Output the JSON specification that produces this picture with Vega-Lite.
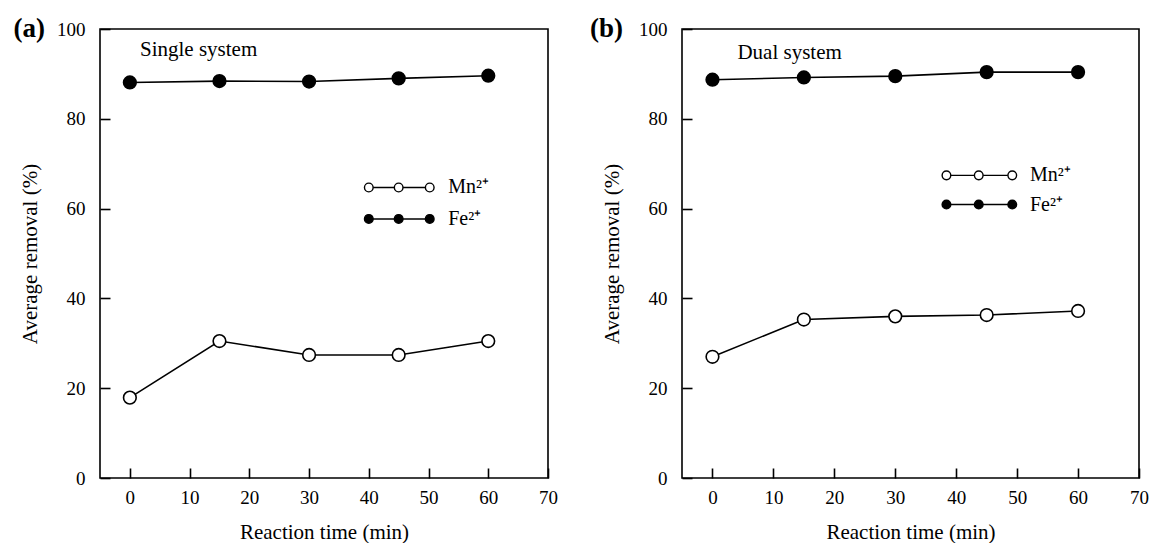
{
  "$schema": "https://vega.github.io/schema/vega-lite/v6.json",
  "background": "white",
  "padding": {"left": 12, "top": 14, "right": 0, "bottom": 2},
  "spacing": 30,
  "datasets": {
    "series": [
      {"panel": "a", "series": "Mn", "time": 0, "value": 17.9},
      {"panel": "a", "series": "Mn", "time": 15, "value": 30.5},
      {"panel": "a", "series": "Mn", "time": 30, "value": 27.4},
      {"panel": "a", "series": "Mn", "time": 45, "value": 27.4},
      {"panel": "a", "series": "Mn", "time": 60, "value": 30.5},
      {"panel": "a", "series": "Fe", "time": 0, "value": 88.1},
      {"panel": "a", "series": "Fe", "time": 15, "value": 88.4},
      {"panel": "a", "series": "Fe", "time": 30, "value": 88.3},
      {"panel": "a", "series": "Fe", "time": 45, "value": 89.0},
      {"panel": "a", "series": "Fe", "time": 60, "value": 89.6},
      {"panel": "b", "series": "Mn", "time": 0, "value": 27.0},
      {"panel": "b", "series": "Mn", "time": 15, "value": 35.3},
      {"panel": "b", "series": "Mn", "time": 30, "value": 36.0},
      {"panel": "b", "series": "Mn", "time": 45, "value": 36.3},
      {"panel": "b", "series": "Mn", "time": 60, "value": 37.2},
      {"panel": "b", "series": "Fe", "time": 0, "value": 88.7},
      {"panel": "b", "series": "Fe", "time": 15, "value": 89.2},
      {"panel": "b", "series": "Fe", "time": 30, "value": 89.5},
      {"panel": "b", "series": "Fe", "time": 45, "value": 90.4},
      {"panel": "b", "series": "Fe", "time": 60, "value": 90.4}
    ],
    "legend": [
      {"panel": "a", "series": "Mn", "lx": 40, "ly": 64.7},
      {"panel": "a", "series": "Mn", "lx": 45, "ly": 64.7},
      {"panel": "a", "series": "Mn", "lx": 50.2, "ly": 64.7},
      {"panel": "a", "series": "Fe", "lx": 40, "ly": 57.7},
      {"panel": "a", "series": "Fe", "lx": 45, "ly": 57.7},
      {"panel": "a", "series": "Fe", "lx": 50.2, "ly": 57.7},
      {"panel": "b", "series": "Mn", "lx": 38.4, "ly": 67.4},
      {"panel": "b", "series": "Mn", "lx": 43.7, "ly": 67.4},
      {"panel": "b", "series": "Mn", "lx": 49.2, "ly": 67.4},
      {"panel": "b", "series": "Fe", "lx": 38.4, "ly": 60.9},
      {"panel": "b", "series": "Fe", "lx": 43.7, "ly": 60.9},
      {"panel": "b", "series": "Fe", "lx": 49.2, "ly": 60.9}
    ],
    "legendText": [
      {"panel": "a", "label": "Mn²⁺", "tx": 53.3, "ty": 64.7},
      {"panel": "a", "label": "Fe²⁺", "tx": 53.3, "ty": 57.7},
      {"panel": "b", "label": "Mn²⁺", "tx": 52.1, "ty": 67.4},
      {"panel": "b", "label": "Fe²⁺", "tx": 52.1, "ty": 60.9}
    ],
    "notes": [
      {"panel": "a", "label": "Single system", "tx": 1.7, "ty": 94.0},
      {"panel": "b", "label": "Dual system", "tx": 4.1, "ty": 93.4}
    ],
    "tags": [
      {"panel": "a", "label": "(a)", "tx": -19.5, "ty": 100},
      {"panel": "b", "label": "(b)", "tx": -20.1, "ty": 100}
    ]
  },
  "hconcat": [
    {
      "width": 448,
      "height": 449,
      "layer": [
        {
          "data": {"name": "series"},
          "transform": [{"filter": "datum.panel === 'a'"}],
          "mark": {"type": "line", "color": "black", "strokeWidth": 1.6},
          "encoding": {
            "x": {"field": "time", "type": "quantitative", "scale": {"domain": [-5, 70], "nice": false, "zero": false}, "axis": {"values": [0, 10, 20, 30, 40, 50, 60, 70], "title": "Reaction time (min)"}},
            "y": {"field": "value", "type": "quantitative", "scale": {"domain": [0, 100], "nice": false}, "axis": {"values": [0, 20, 40, 60, 80, 100], "title": "Average removal (%)"}},
            "detail": {"field": "series"}
          }
        },
        {
          "data": {"name": "series"},
          "transform": [{"filter": "datum.panel === 'a'"}],
          "mark": {"type": "point", "shape": "circle", "filled": true, "size": 160, "stroke": "black", "strokeWidth": 1.6, "opacity": 1},
          "encoding": {
            "x": {"field": "time", "type": "quantitative", "scale": {"domain": [-5, 70]}},
            "y": {"field": "value", "type": "quantitative", "scale": {"domain": [0, 100]}},
            "fill": {"field": "series", "type": "nominal", "scale": {"domain": ["Mn", "Fe"], "range": ["white", "black"]}, "legend": null}
          }
        },
        {
          "data": {"name": "legend"},
          "transform": [{"filter": "datum.panel === 'a'"}],
          "mark": {"type": "line", "color": "black", "strokeWidth": 1.4},
          "encoding": {
            "x": {"field": "lx", "type": "quantitative", "scale": {"domain": [-5, 70]}},
            "y": {"field": "ly", "type": "quantitative", "scale": {"domain": [0, 100]}},
            "detail": {"field": "series"}
          }
        },
        {
          "data": {"name": "legend"},
          "transform": [{"filter": "datum.panel === 'a'"}],
          "mark": {"type": "point", "shape": "circle", "filled": true, "size": 75, "stroke": "black", "strokeWidth": 1.4, "opacity": 1},
          "encoding": {
            "x": {"field": "lx", "type": "quantitative", "scale": {"domain": [-5, 70]}},
            "y": {"field": "ly", "type": "quantitative", "scale": {"domain": [0, 100]}},
            "fill": {"field": "series", "type": "nominal", "scale": {"domain": ["Mn", "Fe"], "range": ["white", "black"]}, "legend": null}
          }
        },
        {
          "data": {"name": "legendText"},
          "transform": [{"filter": "datum.panel === 'a'"}],
          "mark": {"type": "text", "align": "left", "baseline": "middle", "fontSize": 20, "font": "Liberation Serif", "color": "black"},
          "encoding": {
            "x": {"field": "tx", "type": "quantitative", "scale": {"domain": [-5, 70]}},
            "y": {"field": "ty", "type": "quantitative", "scale": {"domain": [0, 100]}},
            "text": {"field": "label"}
          }
        },
        {
          "data": {"name": "notes"},
          "transform": [{"filter": "datum.panel === 'a'"}],
          "mark": {"type": "text", "align": "left", "baseline": "alphabetic", "fontSize": 21, "font": "Liberation Serif", "color": "black"},
          "encoding": {
            "x": {"field": "tx", "type": "quantitative", "scale": {"domain": [-5, 70]}},
            "y": {"field": "ty", "type": "quantitative", "scale": {"domain": [0, 100]}},
            "text": {"field": "label"}
          }
        },
        {
          "data": {"name": "tags"},
          "transform": [{"filter": "datum.panel === 'a'"}],
          "mark": {"type": "text", "align": "left", "baseline": "middle", "fontSize": 27, "fontWeight": "bold", "font": "Liberation Serif", "color": "black"},
          "encoding": {
            "x": {"field": "tx", "type": "quantitative", "scale": {"domain": [-5, 70]}},
            "y": {"field": "ty", "type": "quantitative", "scale": {"domain": [0, 100]}},
            "text": {"field": "label"}
          }
        }
      ]
    },
    {
      "width": 457,
      "height": 449,
      "layer": [
        {
          "data": {"name": "series"},
          "transform": [{"filter": "datum.panel === 'b'"}],
          "mark": {"type": "line", "color": "black", "strokeWidth": 1.6},
          "encoding": {
            "x": {"field": "time", "type": "quantitative", "scale": {"domain": [-5, 70], "nice": false, "zero": false}, "axis": {"values": [0, 10, 20, 30, 40, 50, 60, 70], "title": "Reaction time (min)"}},
            "y": {"field": "value", "type": "quantitative", "scale": {"domain": [0, 100], "nice": false}, "axis": {"values": [0, 20, 40, 60, 80, 100], "title": "Average removal (%)"}},
            "detail": {"field": "series"}
          }
        },
        {
          "data": {"name": "series"},
          "transform": [{"filter": "datum.panel === 'b'"}],
          "mark": {"type": "point", "shape": "circle", "filled": true, "size": 160, "stroke": "black", "strokeWidth": 1.6, "opacity": 1},
          "encoding": {
            "x": {"field": "time", "type": "quantitative", "scale": {"domain": [-5, 70]}},
            "y": {"field": "value", "type": "quantitative", "scale": {"domain": [0, 100]}},
            "fill": {"field": "series", "type": "nominal", "scale": {"domain": ["Mn", "Fe"], "range": ["white", "black"]}, "legend": null}
          }
        },
        {
          "data": {"name": "legend"},
          "transform": [{"filter": "datum.panel === 'b'"}],
          "mark": {"type": "line", "color": "black", "strokeWidth": 1.4},
          "encoding": {
            "x": {"field": "lx", "type": "quantitative", "scale": {"domain": [-5, 70]}},
            "y": {"field": "ly", "type": "quantitative", "scale": {"domain": [0, 100]}},
            "detail": {"field": "series"}
          }
        },
        {
          "data": {"name": "legend"},
          "transform": [{"filter": "datum.panel === 'b'"}],
          "mark": {"type": "point", "shape": "circle", "filled": true, "size": 75, "stroke": "black", "strokeWidth": 1.4, "opacity": 1},
          "encoding": {
            "x": {"field": "lx", "type": "quantitative", "scale": {"domain": [-5, 70]}},
            "y": {"field": "ly", "type": "quantitative", "scale": {"domain": [0, 100]}},
            "fill": {"field": "series", "type": "nominal", "scale": {"domain": ["Mn", "Fe"], "range": ["white", "black"]}, "legend": null}
          }
        },
        {
          "data": {"name": "legendText"},
          "transform": [{"filter": "datum.panel === 'b'"}],
          "mark": {"type": "text", "align": "left", "baseline": "middle", "fontSize": 20, "font": "Liberation Serif", "color": "black"},
          "encoding": {
            "x": {"field": "tx", "type": "quantitative", "scale": {"domain": [-5, 70]}},
            "y": {"field": "ty", "type": "quantitative", "scale": {"domain": [0, 100]}},
            "text": {"field": "label"}
          }
        },
        {
          "data": {"name": "notes"},
          "transform": [{"filter": "datum.panel === 'b'"}],
          "mark": {"type": "text", "align": "left", "baseline": "alphabetic", "fontSize": 21, "font": "Liberation Serif", "color": "black"},
          "encoding": {
            "x": {"field": "tx", "type": "quantitative", "scale": {"domain": [-5, 70]}},
            "y": {"field": "ty", "type": "quantitative", "scale": {"domain": [0, 100]}},
            "text": {"field": "label"}
          }
        },
        {
          "data": {"name": "tags"},
          "transform": [{"filter": "datum.panel === 'b'"}],
          "mark": {"type": "text", "align": "left", "baseline": "middle", "fontSize": 27, "fontWeight": "bold", "font": "Liberation Serif", "color": "black"},
          "encoding": {
            "x": {"field": "tx", "type": "quantitative", "scale": {"domain": [-5, 70]}},
            "y": {"field": "ty", "type": "quantitative", "scale": {"domain": [0, 100]}},
            "text": {"field": "label"}
          }
        }
      ]
    }
  ],
  "config": {
    "font": "Liberation Serif",
    "view": {"stroke": "black", "strokeWidth": 1.6},
    "axis": {
      "domain": false,
      "grid": false,
      "ticks": true,
      "tickColor": "black",
      "tickWidth": 1.6,
      "tickSize": -10,
      "labelColor": "black",
      "labelFont": "Liberation Serif",
      "labelFontSize": 19,
      "labelFlush": false,
      "labelOverlap": false,
      "titleFont": "Liberation Serif",
      "titleFontSize": 21,
      "titleFontWeight": "normal",
      "titleColor": "black"
    },
    "axisX": {"labelPadding": 20, "titlePadding": 14},
    "axisY": {"labelPadding": 25, "titlePadding": 16}
  }
}
